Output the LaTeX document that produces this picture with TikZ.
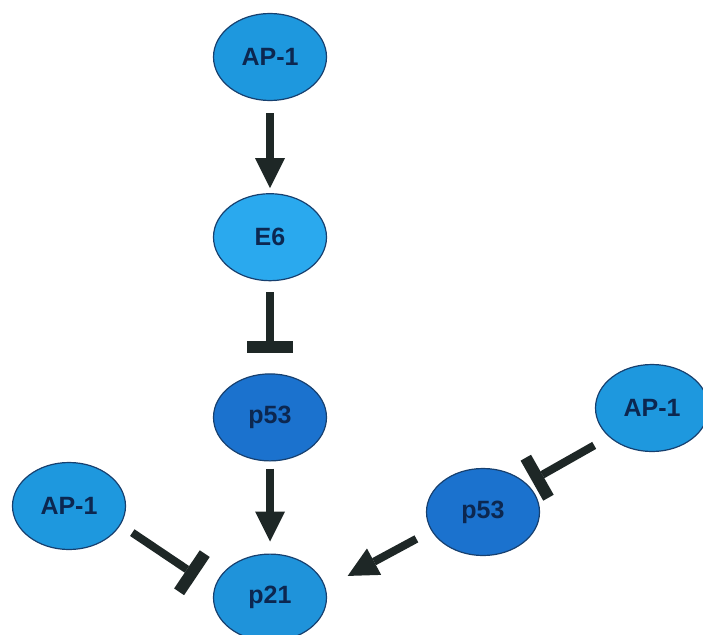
\documentclass[tikz,border=0pt]{standalone}
\usepackage{fontspec}
\setmainfont{Liberation Sans}
\usetikzlibrary{arrows.meta,positioning,shapes.geometric}
\definecolor{apblue}{HTML}{1E98DE}
\definecolor{esixblue}{HTML}{2AA9EE}
\definecolor{pblue}{HTML}{1B72CE}
\definecolor{pcblue}{HTML}{1F93DA}
\definecolor{rimblue}{HTML}{17406F}
\definecolor{labelnavy}{HTML}{0C2750}
\definecolor{linkgrey}{HTML}{1E2726}

\begin{document}
\begin{tikzpicture}[
    x=1pt, y=-1pt,
    node distance=92pt,
    genebox/.style={ellipse, draw=rimblue, line width=1.2pt, fill=#1, minimum width=113pt, minimum height=87pt, inner sep=0pt, text=labelnavy, font=\fontsize{25}{27}\selectfont\bfseries},
    activ/.style={-{Triangle[width=30pt, length=30pt, line width=0pt]}, line width=8pt, draw=linkgrey},
    inhib/.style={-{Rectangle[width=46pt, length=12pt, line width=0pt]}, line width=8pt, draw=linkgrey}
  ]
  \useasboundingbox (0,0) rectangle (703,634);
  \node[genebox=apblue] (aptop) at (270,57) {AP-1};
  \node[genebox=esixblue, below=of aptop] (esix) {E6};
  \node[genebox=pblue, below=of esix] (pmid) {p53};
  \node[genebox=pcblue, below=of pmid] (pcell) {p21};
  \node[genebox=apblue] (apleft) at (69,506) {AP-1};
  \node[genebox=apblue] (apright) at (652,408) {AP-1};
  \node[genebox=pblue] (pright) at (483,512) {p53};
  \draw[activ, shorten <=12pt, shorten >=5pt] (aptop) -- (esix);
  \draw[inhib, shorten <=11pt, shorten >=20pt] (esix) -- (pmid);
  \draw[activ, shorten <=7pt, shorten >=12pt] (pmid) -- (pcell);
  \draw[inhib, shorten <=14pt, shorten >=21pt] (apleft.-20) -- (pcell.170);
  \draw[inhib, shorten <=17pt, shorten >=6pt] (apright.214) -- (pright.33);
  \draw[activ, shorten <=17pt, shorten >=25pt] (pright.200) -- (pcell.10);
\end{tikzpicture}
\end{document}
